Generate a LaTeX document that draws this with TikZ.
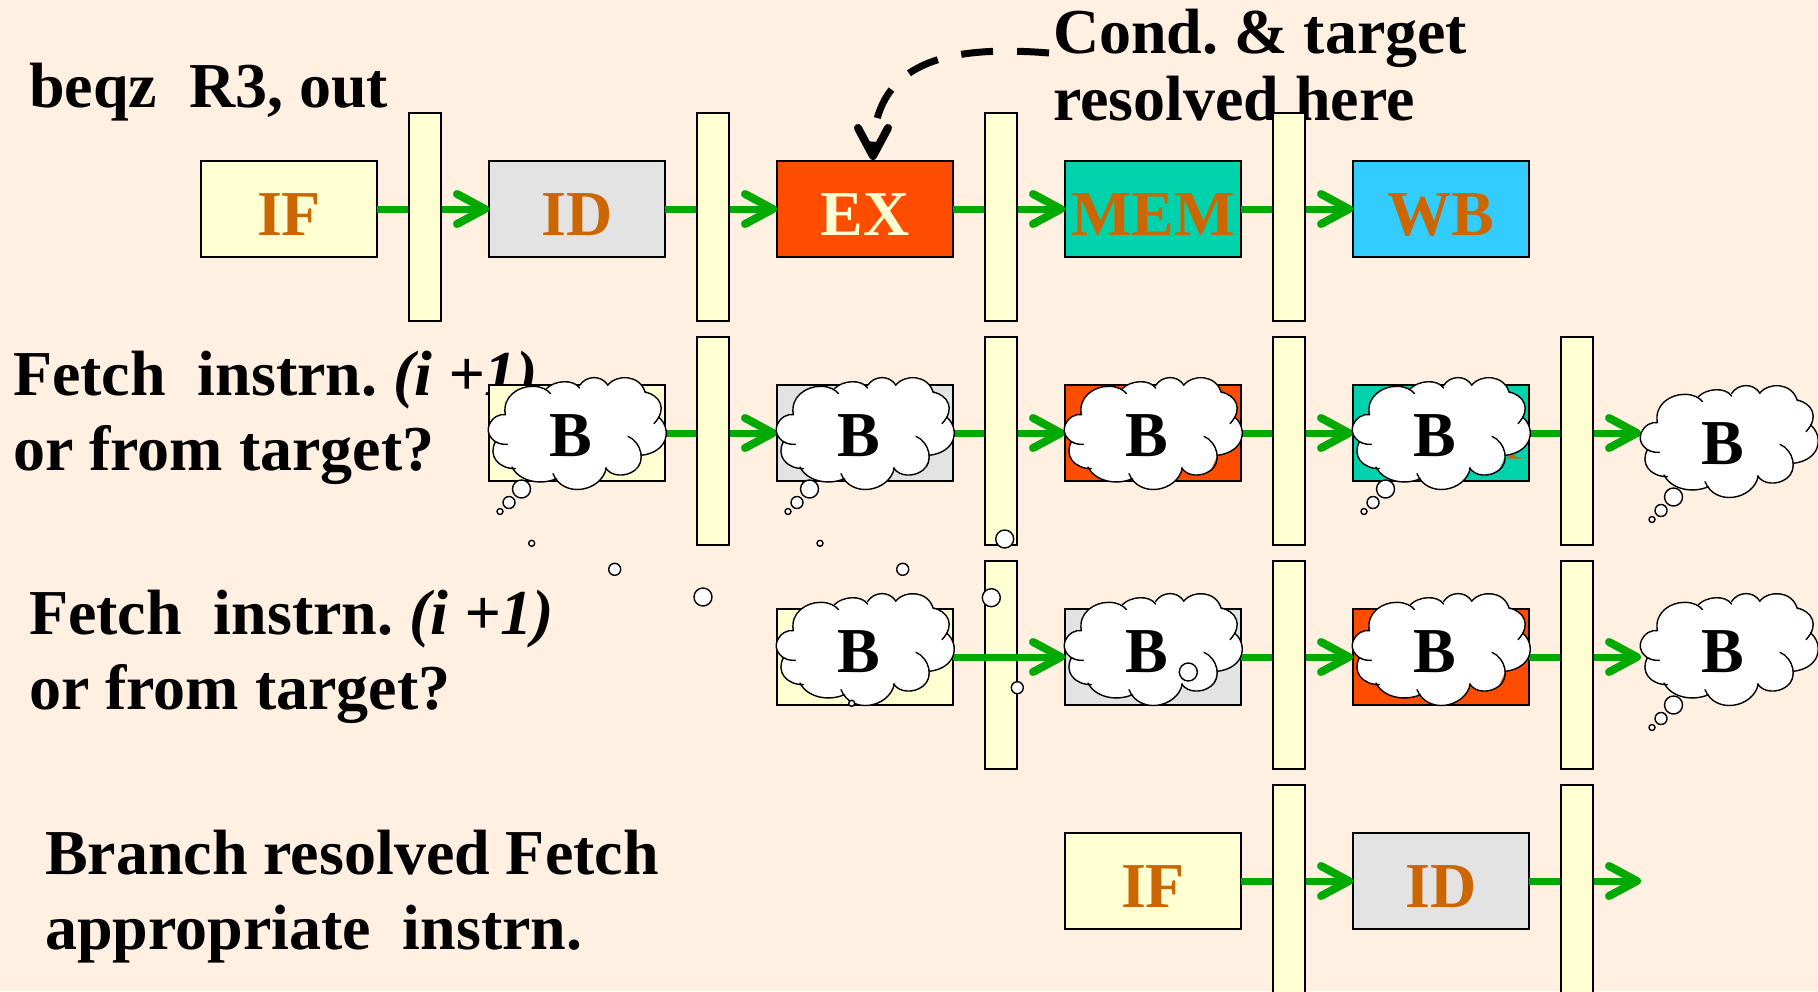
\documentclass[tikz,border=0pt]{standalone}
\usepackage{fontspec}
\setmainfont{Liberation Serif}
\usetikzlibrary{arrows.meta}
\definecolor{bgcol}{HTML}{FFF0E2}
\definecolor{paleyellow}{HTML}{FFFFD2}
\definecolor{stagegray}{HTML}{E3E3E3}
\definecolor{stageorange}{HTML}{FF4D00}
\definecolor{stageteal}{HTML}{00D2AB}
\definecolor{stageblue}{HTML}{33CCFF}
\definecolor{labelbrown}{HTML}{CC6600}
\definecolor{flowgreen}{HTML}{00AA00}
\frenchspacing
\tikzset{
  note/.style={font=\bfseries\fontsize{64}{75}\selectfont,align=left,anchor=north west,inner sep=0pt,outer sep=0pt},
  tightnote/.style={note,font=\bfseries\fontsize{64}{67}\selectfont},
  stage/.style={draw=black,line width=1.6pt,minimum width=176pt,minimum height=96pt,inner sep=0pt,outer sep=0pt,
    font=\bfseries\fontsize{64}{64}\selectfont,text=labelbrown,text height=52pt,text depth=0pt},
  latch/.style={draw=black,line width=1.6pt,fill=paleyellow,minimum width=32pt,minimum height=208pt,inner sep=0pt,outer sep=0pt},
  flow/.style={draw=flowgreen,line width=7pt,-{Straight Barb[round,length=28pt,width=30pt,line width=8pt]}},
  bubble/.style={draw=black,fill=white,line width=1.4pt},
  cloudline/.style={draw=black,line width=1.4pt,line cap=round},
  thought/.pic={
    \begin{scope}[x=0.33333pt,y=-0.33333pt,shift={(-3,-45)}]
      \fill[white] (52,158) .. controls (42,105) and (90,72) .. (135,73) .. controls (160,73) and (178,83) .. (188,95)
        -- (175,80) .. controls (200,55) and (255,50) .. (275,78)
        -- (275,70) .. controls (295,40) and (340,38) .. (360,70)
        -- (360,68) .. controls (385,38) and (455,35) .. (472,92)
        -- (472,90) .. controls (515,100) and (540,140) .. (498,185)
        -- (512,165) .. controls (552,200) and (542,270) .. (460,280)
        -- (440,325) .. controls (415,345) and (370,345) .. (353,318)
        -- (355,318) .. controls (340,390) and (225,410) .. (195,335)
        -- (205,350) .. controls (160,370) and (95,360) .. (72,315)
        -- (82,320) .. controls (30,320) and (0,280) .. (22,240)
        -- (58,247) .. controls (15,250) and (-7,215) .. (3,190) .. controls (13,165) and (35,155) .. (52,158) -- cycle;
      \draw[cloudline] (52,158) .. controls (42,105) and (90,72) .. (135,73) .. controls (160,73) and (178,83) .. (188,95);
      \draw[cloudline] (175,80) .. controls (200,55) and (255,50) .. (275,78);
      \draw[cloudline] (275,70) .. controls (295,40) and (340,38) .. (360,70);
      \draw[cloudline] (360,68) .. controls (385,38) and (455,35) .. (472,92);
      \draw[cloudline] (472,90) .. controls (515,100) and (540,140) .. (498,185);
      \draw[cloudline] (512,165) .. controls (552,200) and (542,270) .. (460,280);
      \draw[cloudline] (420,223) .. controls (460,240) and (475,300) .. (440,325) .. controls (415,345) and (370,345) .. (353,318);
      \draw[cloudline] (355,318) .. controls (340,390) and (225,410) .. (195,335);
      \draw[cloudline] (205,350) .. controls (160,370) and (95,360) .. (72,315);
      \draw[cloudline] (82,320) .. controls (30,320) and (0,280) .. (22,240);
      \draw[cloudline] (58,247) .. controls (15,250) and (-7,215) .. (3,190) .. controls (13,165) and (35,155) .. (52,158);
    \end{scope}
    \node[anchor=base,inner sep=0pt,font=\bfseries\fontsize{64}{64}\selectfont] (-b) at (82,79) {B};
  },
  trail/.pic={
    \draw[bubble] (32.5,112) circle (9pt);
    \draw[bubble] (20,125.5) circle (6pt);
    \draw[bubble] (11,134.5) circle (3pt);
  }
}
\newcommand{\fetchtext}{Fetch\ \ instrn. \textit{(i +1)}\\or from target?}
\begin{document}
\begin{tikzpicture}[x=1pt,y=-1pt]
\clip (0,0) rectangle (1818,991);
\fill[bgcol] (0,0) rectangle (1818,991);
% texts
\node[note] (beq) at (29,63) {beqz\ \ R3, out};
\node[tightnote] (cond) at (1053,9) {Cond. \& target\\resolved here};
\node[note] (fetcha) at (13,351) {\fetchtext};
\node[note] (fetchb) at (29,590) {\fetchtext};
\node[note] (brres) at (45,830) {Branch resolved Fetch\\appropriate\ \ instrn.};
% row 1
\node[stage,fill=paleyellow] (a1) at (289,209) {IF};
\node[stage,fill=stagegray] (a2) at (577,209) {ID};
\node[stage,fill=stageorange,text=paleyellow] (a3) at (865,209) {EX};
\node[stage,fill=stageteal] (a4) at (1153,209) {MEM};
\node[stage,fill=stageblue] (a5) at (1441,209) {WB};
% row 2
\node[stage,fill=paleyellow] (b1) at (577,433) {};
\node[stage,fill=stagegray] (b2) at (865,433) {};
\node[stage,fill=stageorange] (b3) at (1153,433) {};
\node[stage,fill=stageteal] (b4) at (1441,433) {};
\fill[labelbrown] (1507,458.5) -- (1521,458.5) -- (1521,457) -- (1516,457) -- (1514,454) -- (1509,456) -- cycle;
% row 3
\node[stage,fill=paleyellow] (c1) at (865,657) {};
\node[stage,fill=stagegray] (c2) at (1153,657) {};
\node[stage,fill=stageorange] (c3) at (1441,657) {};
% row 4
\node[stage,fill=paleyellow] (d1) at (1153,881) {IF};
\node[stage,fill=stagegray] (d2) at (1441,881) {ID};
% free ends
\coordinate (e2) at (1641,433);
\coordinate (e3) at (1641,657);
\coordinate (e4) at (1641,881);
\coordinate (condend) at (1049,53);
\coordinate (exin) at (873,160);
% connectors under the latches
\draw[flow] (a1.east) -- (a2.west);
\draw[flow] (a2.east) -- (a3.west);
\draw[flow] (a3.east) -- (a4.west);
\draw[flow] (a4.east) -- (a5.west);
\draw[flow] (b1.east) -- (b2.west);
\draw[flow] (b2.east) -- (b3.west);
\draw[flow] (b3.east) -- (b4.west);
\draw[flow] (b4.east) -- (e2);
\draw[flow] (c2.east) -- (c3.west);
\draw[flow] (c3.east) -- (e3);
\draw[flow] (d1.east) -- (d2.west);
\draw[flow] (d2.east) -- (e4);
% latches
\node[latch] (la1) at (425,217) {};
\node[latch] (la2) at (713,217) {};
\node[latch] (la3) at (1001,217) {};
\node[latch] (la4) at (1289,217) {};
\node[latch] (lb1) at (713,441) {};
\node[latch] (lb2) at (1001,441) {};
\node[latch] (lb3) at (1289,441) {};
\node[latch] (lb4) at (1577,441) {};
\node[latch] (lc1) at (1001,665) {};
\node[latch] (lc2) at (1289,665) {};
\node[latch] (lc3) at (1577,665) {};
\node[latch] (ld1) at (1289,889) {};
\node[latch] (ld2) at (1577,889) {};
\draw[flow] (c1.east) -- (c2.west);
% resolved arrow
\draw[black,line width=7pt,dash pattern=on 32pt off 24pt,-{Straight Barb[round,length=28pt,width=30pt,line width=8pt]}]
  (condend) .. controls (950,45) and (873,60) .. (exin);
% clouds
\pic (tb1) at (489,377) {thought};
\pic (tb2) at (777,377) {thought};
\pic (tb3) at (1065,377) {thought};
\pic (tb4) at (1353,377) {thought};
\pic (tb5) at (1641,385) {thought};
\pic (tc1) at (777,593) {thought};
\pic (tc2) at (1065,593) {thought};
\pic (tc3) at (1353,593) {thought};
\pic (tc4) at (1641,593) {thought};
\pic at (489,377) {trail};
\pic at (777,377) {trail};
\pic at (1353,377) {trail};
\pic at (1641,385) {trail};
\pic at (1641,593) {trail};
% scattered bubbles
\draw[bubble] (703,597) circle (9pt);
\draw[bubble] (614.7,569.3) circle (6pt);
\draw[bubble] (531.7,543.3) circle (3pt);
\draw[bubble] (991.3,597.7) circle (9pt);
\draw[bubble] (902.7,569.3) circle (6pt);
\draw[bubble] (820,543.3) circle (3pt);
\draw[bubble] (1004.7,539) circle (9pt);
\draw[bubble] (1017.3,687.7) circle (6pt);
\draw[bubble] (851.7,703.3) circle (3pt);
\draw[bubble] (1188.3,672) circle (9pt);
\end{tikzpicture}
\end{document}
